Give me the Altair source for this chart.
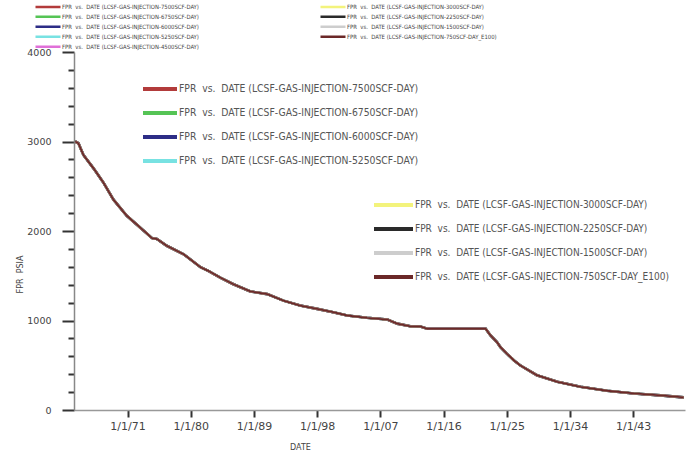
import altair as alt
import pandas as pd

# ---- data ----
dates = ["1963-07-20", "1964-01-05", "1964-09-20", "1966-03-01", "1967-08-01",
         "1969-01-01", "1970-11-25", "1972-10-15", "1974-07-01", "1975-03-15",
         "1976-08-01", "1979-01-01", "1981-05-25", "1982-07-01", "1984-03-15",
         "1986-02-01", "1988-07-01", "1990-11-25", "1993-03-15", "1995-08-01",
         "1998-01-01", "2000-04-15", "2002-04-15", "2005-02-05", "2008-01-01",
         "2009-05-25", "2011-04-15", "2012-09-10", "2013-09-10", "2022-01-01",
         "2022-09-10", "2023-08-10", "2024-02-05", "2025-01-01", "2026-01-01",
         "2026-11-25", "2029-04-15", "2032-03-15", "2035-07-01", "2039-04-15",
         "2043-02-05", "2046-11-25", "2050-03-15"]
fpr = [3000, 2980, 2850, 2700, 2540,
       2350, 2170, 2040, 1920, 1910,
       1835, 1740, 1595, 1555, 1480,
       1405, 1325, 1295, 1222, 1167,
       1130, 1093, 1056, 1030, 1011,
       965, 935, 933, 907, 907,
       833, 759, 703, 630, 556,
       500, 389, 315, 259, 215,
       185, 163, 141]

cases = ["7500SCF-DAY", "6750SCF-DAY", "6000SCF-DAY", "5250SCF-DAY", "4500SCF-DAY",
         "3000SCF-DAY", "2250SCF-DAY", "1500SCF-DAY", "750SCF-DAY_E100"]
case_colors = ["#b23b3b", "#55c455", "#2d2d86", "#78e2e2", "#e070d8",
               "#f3f37c", "#2a2a2a", "#cdcdcd", "#6b2828"]
tick_years = [1971, 1980, 1989, 1998, 2007, 2016, 2025, 2034, 2043]

NB = "\u00a0"


def lab(c):
    return f"FPR{NB} vs.{NB} DATE (LCSF-GAS-INJECTION-{c})"


labels = [lab(c) for c in cases]
color_of = dict(zip(labels, case_colors))


def frame(order):
    rows = []
    for i in order:
        for d, v in zip(dates, fpr):
            rows.append({"date": d, "fpr": v, "series": labels[i]})
    return pd.DataFrame(rows)


NARROW = "Liberation Sans Narrow, DejaVu Sans Condensed, Arial Narrow, Liberation Sans, sans-serif"

x_enc = alt.X(
    "date:T",
    scale=alt.Scale(type="utc",
                    domain=[alt.DateTime(year=1963, month=5, date=20, utc=True),
                            alt.DateTime(year=2050, month=5, date=20, utc=True)]),
    axis=alt.Axis(
        values=[alt.DateTime(year=y, month=1, date=1, utc=True) for y in tick_years],
        labelExpr="'1/1/' + utcFormat(datum.value, '%y')",
        title="DATE", titleFont="DejaVu Sans", titleFontSize=8, titleFontWeight="normal",
        titleColor="#444", titleX=226, titleY=33, titleAnchor="middle",
        labelFont="DejaVu Sans", labelFontSize=11, labelColor="#444", labelPadding=3,
        tickSize=7, tickWidth=2, tickColor="#333", domainColor="#999", domainWidth=1.5,
        grid=False, labelFlush=False,
    ),
)
y_enc = alt.Y(
    "fpr:Q",
    scale=alt.Scale(domain=[0, 4000], nice=False, zero=True),
    axis=alt.Axis(
        values=list(range(0, 4001, 200)), format="d",
        labelExpr="datum.value % 1000 === 0 ? datum.label : ''",
        tickSize={"condition": {"test": "datum.value % 1000 === 0", "value": 12}, "value": 6},
        tickWidth=2, tickColor="#333", domainColor="#888", domainWidth=1.5,
        labelFont="DejaVu Sans", labelFontSize=9.5, labelColor="#444", labelPadding=11,
        title="FPR" + NB + " PSIA", titleFont="DejaVu Sans", titleFontSize=8,
        titleFontWeight="normal", titleColor="#444", titleAngle=-90,
        titleX=-54, titleY=222, titleAlign="center", titleBaseline="middle",
        grid=False,
    ),
)

# top legend: all cases in two columns (filled column by column)
top_domain = labels[:]
layer_all = alt.Chart(frame(range(9))).mark_line(strokeWidth=2).encode(
    x=x_enc, y=y_enc,
    color=alt.Color("series:N",
                    scale=alt.Scale(domain=top_domain, range=[color_of[l] for l in top_domain]),
                    legend=alt.Legend(orient="none", legendX=-40, legendY=-50, columns=2,
                                      title=None, symbolType="stroke", symbolSize=625,
                                      symbolStrokeWidth=2.5, labelFont=NARROW, labelFontSize=5.9,
                                      labelColor="#444", labelLimit=600, labelOffset=0,
                                      clipHeight=9.3, rowPadding=0, columnPadding=120,
                                      padding=0, symbolOffset=0)),
)

mid_domain = labels[:4]
layer_mid = alt.Chart(frame([1, 2, 3, 0])).mark_line(strokeWidth=2.6).encode(
    x=x_enc, y=y_enc,
    color=alt.Color("series:N",
                    scale=alt.Scale(domain=mid_domain, range=[color_of[l] for l in mid_domain]),
                    legend=alt.Legend(orient="none", legendX=67, legendY=27,
                                      title=None, symbolType="stroke", symbolSize=1156,
                                      symbolStrokeWidth=4, labelFont=NARROW, labelFontSize=10.3,
                                      labelColor="#555", labelLimit=600, labelOffset=0,
                                      clipHeight=20, rowPadding=4, padding=0, symbolOffset=0)),
)

low_domain = labels[5:]
layer_low = alt.Chart(frame([5, 6, 7, 8])).mark_line(strokeWidth=1.8).encode(
    x=x_enc, y=y_enc,
    color=alt.Color("series:N",
                    scale=alt.Scale(domain=low_domain, range=[color_of[l] for l in low_domain]),
                    legend=alt.Legend(orient="none", legendX=298, legendY=143,
                                      title=None, symbolType="stroke", symbolSize=1521,
                                      symbolStrokeWidth=4, labelFont=NARROW, labelFontSize=10.0,
                                      labelColor="#555", labelLimit=600, labelOffset=0,
                                      clipHeight=20, rowPadding=4, padding=0, symbolOffset=0)),
)

chart = alt.layer(layer_all, layer_mid, layer_low).resolve_scale(
    color="independent"
).properties(
    width=611, height=358,
    autosize=alt.AutoSizeParams(type="none"),
    padding={"left": 74, "top": 52, "right": 7, "bottom": 48},
    background="white",
).configure_view(stroke=None)

chart.save("out.html", embed_options={"renderer": "svg", "actions": False})
